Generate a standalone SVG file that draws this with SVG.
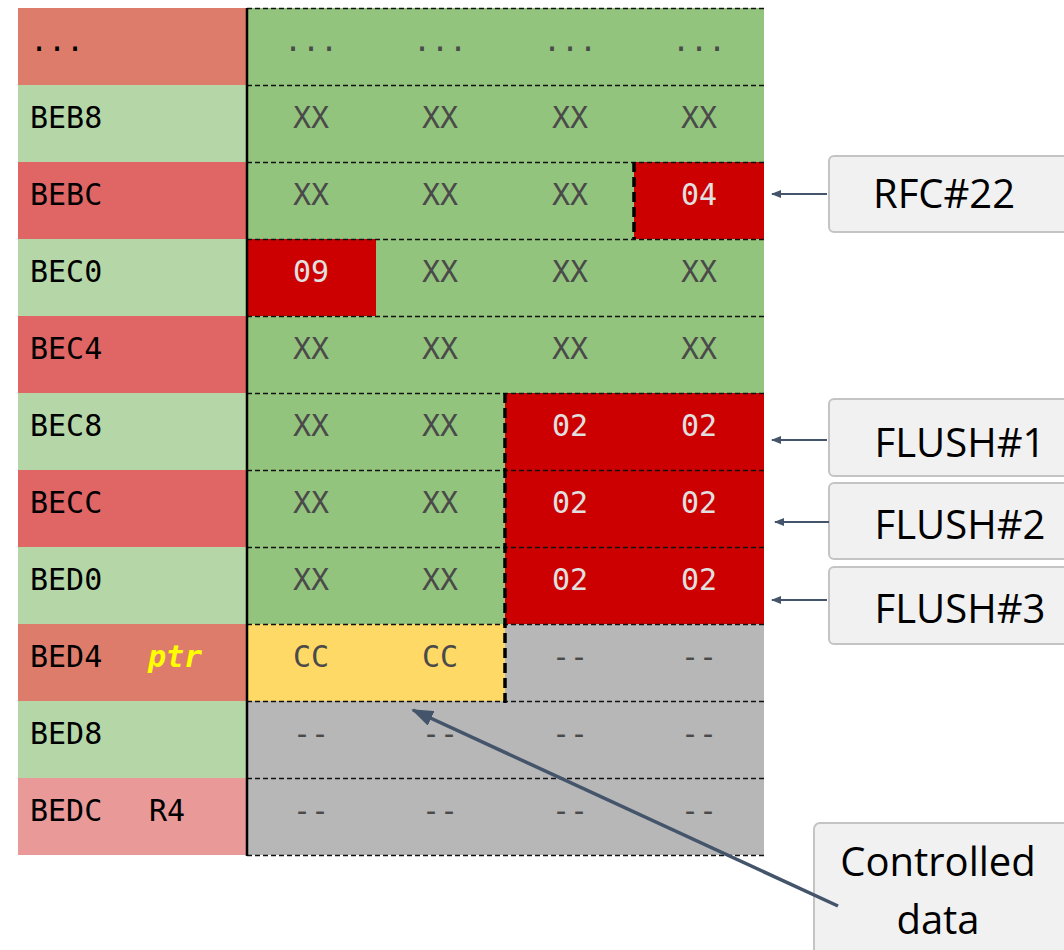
<svg xmlns="http://www.w3.org/2000/svg" width="1064" height="950" viewBox="0 0 1064 950">
<defs>
<style>
.t{font-family:"DejaVu Sans Mono","Liberation Mono",monospace;font-size:30px;}
.lbl{fill:#000;}
.c{fill:#4a4a4a;text-anchor:middle;}
.w{fill:#e0e0e0;text-anchor:middle;}
.dl{stroke:#111;stroke-width:1.5;stroke-dasharray:5 3;fill:none;}
.thick{stroke:#000;stroke-width:3.5;stroke-dasharray:10 5;fill:none;}
.box{fill:#f1f1f1;stroke:#c4c4c4;stroke-width:2;}
.bt{font-family:"Open Sans","Liberation Sans",sans-serif;font-size:40px;fill:#000;text-anchor:middle;}
.ar{stroke:#44546a;stroke-width:2;fill:none;}
</style>
<marker id="ah" markerWidth="10" markerHeight="8" refX="9" refY="4" orient="auto" markerUnits="userSpaceOnUse" viewBox="0 0 10 8">
<path d="M0,0 L10,4 L0,8 Z" fill="#44546a"/>
</marker>
<marker id="ah2" markerWidth="22" markerHeight="16" refX="20" refY="8" orient="auto" markerUnits="userSpaceOnUse" viewBox="0 0 22 16">
<path d="M0,0 L22,8 L0,16 Z" fill="#44546a"/>
</marker>
</defs>
<rect width="1064" height="950" fill="#fff"/>

<g id="labels">
<rect x="18" y="8" width="229" height="77" fill="#de7c6b"/>
<rect x="18" y="85" width="229" height="77" fill="#b5d7a8"/>
<rect x="18" y="162" width="229" height="77" fill="#e06666"/>
<rect x="18" y="239" width="229" height="77" fill="#b5d7a8"/>
<rect x="18" y="316" width="229" height="77" fill="#e06666"/>
<rect x="18" y="393" width="229" height="77" fill="#b5d7a8"/>
<rect x="18" y="470" width="229" height="77" fill="#e06666"/>
<rect x="18" y="547" width="229" height="77" fill="#b5d7a8"/>
<rect x="18" y="624" width="229" height="77" fill="#de7c6b"/>
<rect x="18" y="701" width="229" height="77" fill="#b5d7a8"/>
<rect x="18" y="778" width="229" height="77" fill="#ea9999"/>
<text class="t lbl" x="30" y="51">...</text>
<text class="t lbl" x="30" y="128">BEB8</text>
<text class="t lbl" x="30" y="205">BEBC</text>
<text class="t lbl" x="30" y="282">BEC0</text>
<text class="t lbl" x="30" y="359">BEC4</text>
<text class="t lbl" x="30" y="436">BEC8</text>
<text class="t lbl" x="30" y="513">BECC</text>
<text class="t lbl" x="30" y="590">BED0</text>
<text class="t lbl" x="30" y="667">BED4</text>
<text class="t" x="148" y="667" fill="#ffff00" font-weight="bold" font-style="italic">ptr</text>
<text class="t lbl" x="30" y="744">BED8</text>
<text class="t lbl" x="30" y="821">BEDC</text>
<text class="t lbl" x="149" y="821">R4</text>
</g>

<g id="grid">
<rect x="247" y="8" width="517" height="616" fill="#93c47d"/>
<rect x="634" y="162" width="130" height="77" fill="#cc0000"/>
<rect x="247" y="239" width="129" height="77" fill="#cc0000"/>
<rect x="505" y="393" width="259" height="231" fill="#cc0000"/>
<rect x="247" y="624" width="258" height="77" fill="#ffd966"/>
<rect x="505" y="624" width="259" height="77" fill="#b7b7b7"/>
<rect x="247" y="701" width="517" height="154" fill="#b7b7b7"/>

<g class="t c">
<text x="311" y="51">...</text><text x="440" y="51">...</text><text x="570" y="51">...</text><text x="699" y="51">...</text>
<text x="311" y="128">XX</text><text x="440" y="128">XX</text><text x="570" y="128">XX</text><text x="699" y="128">XX</text>
<text x="311" y="205">XX</text><text x="440" y="205">XX</text><text x="570" y="205">XX</text>
<text x="440" y="282">XX</text><text x="570" y="282">XX</text><text x="699" y="282">XX</text>
<text x="311" y="359">XX</text><text x="440" y="359">XX</text><text x="570" y="359">XX</text><text x="699" y="359">XX</text>
<text x="311" y="436">XX</text><text x="440" y="436">XX</text>
<text x="311" y="513">XX</text><text x="440" y="513">XX</text>
<text x="311" y="590">XX</text><text x="440" y="590">XX</text>
<text x="311" y="667">CC</text><text x="440" y="667">CC</text><text x="570" y="667">--</text><text x="699" y="667">--</text>
<text x="311" y="744">--</text><text x="440" y="744">--</text><text x="570" y="744">--</text><text x="699" y="744">--</text>
<text x="311" y="821">--</text><text x="440" y="821">--</text><text x="570" y="821">--</text><text x="699" y="821">--</text>
</g>
<g class="t w">
<text x="699" y="205">04</text>
<text x="311" y="282">09</text>
<text x="570" y="436">02</text><text x="699" y="436">02</text>
<text x="570" y="513">02</text><text x="699" y="513">02</text>
<text x="570" y="590">02</text><text x="699" y="590">02</text>
</g>

<path class="dl" d="M247,8.5H764M247,85.5H764M247,162.5H764M247,239.5H764M247,316.5H764M247,393.5H764M247,470.5H764M247,547.5H764M247,624.5H764M247,701.5H764M247,778.5H764M247,855.5H764"/>
<path class="thick" d="M634,162V239M505,393V703"/>
<line x1="247" y1="8" x2="247" y2="856" stroke="#000" stroke-width="2.5"/>
</g>

<g id="rfc22">
<rect class="box" x="829" y="156" width="245" height="76" rx="5"/>
<text class="bt" x="944" y="208">RFC#22</text>
</g>
<g id="flush1">
<rect class="box" x="829" y="399" width="245" height="77" rx="5"/>
<text class="bt" x="960" y="457">FLUSH#1</text>
</g>
<g id="flush2">
<rect class="box" x="829" y="483" width="245" height="76" rx="5"/>
<text class="bt" x="960" y="539">FLUSH#2</text>
</g>
<g id="flush3">
<rect class="box" x="829" y="567" width="245" height="77" rx="5"/>
<text class="bt" x="960" y="623">FLUSH#3</text>
</g>
<g id="controlled">
<rect class="box" x="814" y="823" width="260" height="140" rx="6"/>
<text class="bt" x="938" y="876">Controlled</text>
<text class="bt" x="938" y="934">data</text>
</g>

<g id="connectors">
<line class="ar" x1="827" y1="194" x2="772" y2="194" marker-end="url(#ah)"/>
<line class="ar" x1="827" y1="440" x2="772" y2="440" marker-end="url(#ah)"/>
<line class="ar" x1="829" y1="522" x2="775" y2="522" marker-end="url(#ah)"/>
<line class="ar" x1="827" y1="600" x2="772" y2="600" marker-end="url(#ah)"/>
<line x1="838" y1="906" x2="413" y2="710" stroke="#44546a" stroke-width="3.5" marker-end="url(#ah2)"/>
</g>
</svg>
